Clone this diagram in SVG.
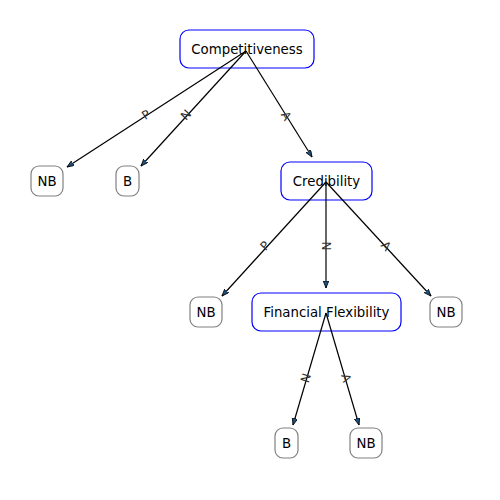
<svg xmlns="http://www.w3.org/2000/svg" width="500" height="500" viewBox="0 0 500 500">
<style>
.bg{fill:#ffffff}
.main rect{fill:#ffffff;stroke:#0000ff;stroke-width:1.2}
.leaf rect{fill:#ffffff;stroke:#808080;stroke-width:1.2}
.nt{font-family:"DejaVu Sans",sans-serif;font-size:13.3px;fill:#000000;text-anchor:middle;dominant-baseline:central}
.e{stroke:#000000;stroke-width:1.2;fill:none;marker-end:url(#ah)}
.el{font-family:"DejaVu Sans",sans-serif;font-size:12px;fill:#333333;text-anchor:middle;dominant-baseline:central}
</style>
<defs>
<marker id="ah" markerUnits="userSpaceOnUse" markerWidth="10" markerHeight="8" refX="7" refY="2.75" orient="auto">
<path d="M0,0 L7,2.75 L0,5.5 Z" fill="#1f4f7a" stroke="#000000" stroke-width="0.8"/>
</marker>
</defs>
<rect class="bg" x="0" y="0" width="500" height="500"/>
<g id="n-competitiveness" class="main"><rect x="180" y="30" width="134" height="38" rx="9"/><text class="nt" x="247" y="49">Competitiveness</text></g>
<g id="n-nb1" class="leaf"><rect x="31" y="166" width="32" height="30" rx="8"/><text class="nt" x="47" y="181">NB</text></g>
<g id="n-b1" class="leaf"><rect x="116" y="166" width="23" height="30" rx="8"/><text class="nt" x="127.5" y="181">B</text></g>
<g id="n-credibility" class="main"><rect x="281" y="162" width="91" height="38" rx="9"/><text class="nt" x="326.5" y="181">Credibility</text></g>
<g id="n-nb2" class="leaf"><rect x="190" y="297" width="32" height="30" rx="8"/><text class="nt" x="206" y="312">NB</text></g>
<g id="n-ff" class="main"><rect x="252" y="293" width="149" height="38" rx="9"/><text class="nt" x="326.5" y="312">Financial Flexibility</text></g>
<g id="n-nb3" class="leaf"><rect x="430" y="297" width="32" height="30" rx="8"/><text class="nt" x="446" y="312">NB</text></g>
<g id="n-b2" class="leaf"><rect x="275" y="428" width="23" height="30" rx="8"/><text class="nt" x="286.5" y="443">B</text></g>
<g id="n-nb4" class="leaf"><rect x="350" y="428" width="32" height="30" rx="8"/><text class="nt" x="366" y="443">NB</text></g>
<g id="connectors">
<line class="e" x1="246" y1="51" x2="67" y2="167"/>
<line class="e" x1="246" y1="51" x2="141" y2="166"/>
<line class="e" x1="246" y1="51" x2="312" y2="157"/>
<line class="e" x1="326" y1="182" x2="222" y2="296"/>
<line class="e" x1="326" y1="182" x2="326" y2="288"/>
<line class="e" x1="326" y1="182" x2="431" y2="296"/>
<line class="e" x1="326" y1="313" x2="293" y2="425"/>
<line class="e" x1="326" y1="313" x2="359" y2="425"/>
<text class="el" transform="translate(146,115) rotate(-33.2)">P</text>
<text class="el" transform="translate(186,115) rotate(-47.5)">N</text>
<text class="el" transform="translate(286,116) rotate(58.9)">A</text>
<text class="el" transform="translate(265,246) rotate(-47.5)">P</text>
<text class="el" transform="translate(326,246) rotate(90)">N</text>
<text class="el" transform="translate(386,246) rotate(47.5)">A</text>
<text class="el" transform="translate(306,378) rotate(-72.9)">N</text>
<text class="el" transform="translate(346,378) rotate(72.9)">A</text>
</g>
</svg>
